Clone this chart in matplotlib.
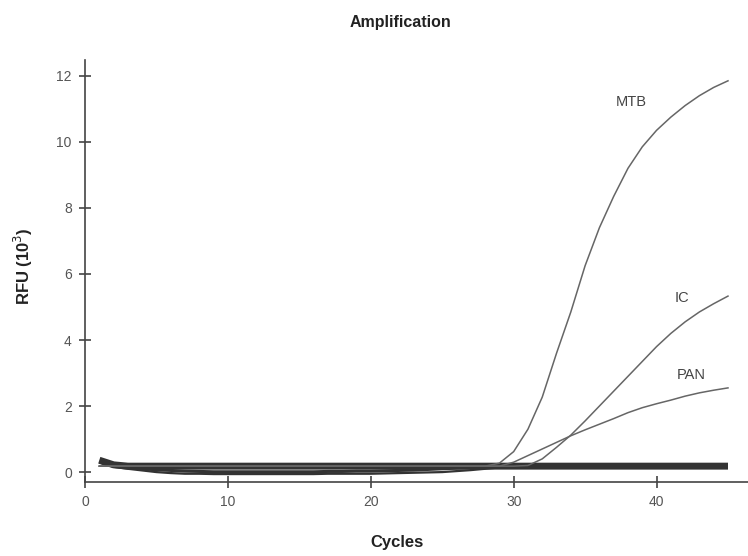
import numpy as np
import matplotlib
matplotlib.use('Agg')
import matplotlib.pyplot as plt

plt.rcParams['font.family'] = ['Liberation Sans', 'DejaVu Sans']

#%% Data
cycles = list(range(1, 46))

mtb = [0.18] * 28 + [0.27, 0.62, 1.3, 2.27, 3.6, 4.85, 6.25, 7.4, 8.35, 9.2,
                     9.85, 10.35, 10.75, 11.1, 11.4, 11.65, 11.85]
ic = [0.18] * 30 + [0.2, 0.4, 0.75, 1.12, 1.55, 2.0, 2.45, 2.9, 3.35, 3.8,
                    4.2, 4.55, 4.85, 5.1, 5.33]
pan = [0.18] * 29 + [0.3, 0.5, 0.7, 0.9, 1.1, 1.28, 1.45, 1.62, 1.8,
                     1.95, 2.07, 2.18, 2.3, 2.4, 2.48, 2.55]

# background wells forming the thick band near zero
bg_flat = [0.36, 0.22] + [0.18] * 43
bg_dip = [0.3, 0.16, 0.1, 0.05, 0.0, -0.03, -0.05, -0.05, -0.06, -0.06,
          -0.06, -0.06, -0.06, -0.06, -0.06, -0.06, -0.05, -0.05, -0.05,
          -0.05, -0.04, -0.03, -0.02, -0.01, 0.0, 0.03, 0.06, 0.1, 0.14,
          0.17] + [0.18] * 15
bg_mild = [0.3, 0.2, 0.14, 0.1, 0.07, 0.05, 0.03, 0.02, 0.01, 0.01,
           0.01, 0.01, 0.01, 0.01, 0.01, 0.01, 0.02, 0.02, 0.03, 0.03,
           0.04, 0.05, 0.06, 0.08, 0.1, 0.12, 0.14, 0.16, 0.18,
           0.18] + [0.18] * 15

labels = ['MTB', 'IC', 'PAN']
label_x = [38.2, 41.8, 42.4]
label_y = [11.2, 5.27, 2.94]

#%% Plot
fig = plt.figure(figsize=(7.48, 5.56), dpi=100)
ax = fig.add_axes([85/748, 1-482/556, 1-85/748, (482-60)/556])

band = '#333333'
ax.plot(cycles, bg_dip, c=band, lw=1.6, solid_capstyle='butt')
ax.plot(cycles, bg_mild, c=band, lw=2.2, solid_capstyle='butt')
ax.plot(cycles, bg_flat, c=band, lw=5, solid_capstyle='butt')

curve = '#666666'
ax.plot(cycles, mtb, c=curve, lw=1.1)
ax.plot(cycles, ic, c=curve, lw=1.1)
ax.plot(cycles, pan, c=curve, lw=1.1)

for t, x, y in zip(labels, label_x, label_y):
    ax.text(x, y, t, ha='center', va='center', fontsize=10.5, color='#444444')

ax.set_xlim(0, 46.4)
ax.set_ylim(-0.30, 12.48)
ax.set_xticks([0, 10, 20, 30, 40])
ax.set_yticks(np.arange(0, 13, 2))

for s in ['top', 'right']:
    ax.spines[s].set_visible(False)
for s in ['left', 'bottom']:
    ax.spines[s].set_color('#444444')
    ax.spines[s].set_linewidth(1.2)

ax.tick_params(direction='inout', length=9, width=1.2, color='#444444',
               labelcolor='#555555', labelsize=10)
ax.tick_params(axis='x', pad=5)
ax.tick_params(axis='y', pad=5)

fig.text(400/748, 1-23/556, 'Amplification', ha='center', va='center',
         fontsize=11.5, fontweight='bold', color='#222222')
fig.text(397/748, 1-543/556, 'Cycles', ha='center', va='center',
         fontsize=12, fontweight='bold', color='#222222')
fig.text(23/748, 1-266/556, 'RFU (10$^3$)', ha='center', va='center',
         rotation=90, fontsize=12, fontweight='bold', color='#222222')

fig.savefig('out.png', dpi=100)
